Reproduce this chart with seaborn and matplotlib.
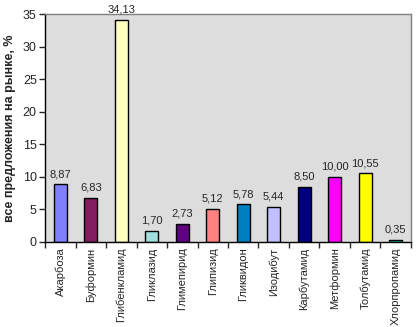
import pandas as pd
import numpy as np
import matplotlib
matplotlib.use('Agg')
import matplotlib.pyplot as plt
import seaborn as sns

# Data
drugs = ['Акарбоза', 'Буформин', 'Глибенкламид', 'Гликлазид', 'Глимепирид',
         'Глипизид', 'Гликвидон', 'Изодибут', 'Карбутамид', 'Метформин',
         'Толбутамид', 'Хлорпропамид']
shares = [8.87, 6.83, 34.13, 1.70, 2.73, 5.12, 5.78, 5.44, 8.50, 10.00, 10.55, 0.35]
bar_colors = ['#8080FF', '#801F60', '#FFFFC0', '#A0E0E0', '#600080', '#FF8080',
              '#0080C0', '#C0C0FF', '#000080', '#FF00FF', '#FFFF00', '#20E0E0']

df = pd.DataFrame({'drug': drugs, 'share': shares})

sns.set_style('white')
plt.rcParams['font.family'] = ['Liberation Sans', 'DejaVu Sans']

fig = plt.figure(figsize=(4.18, 3.27), dpi=100)
ax = fig.add_axes([0.108, 0.26, 0.875, 0.697])
ax.set_facecolor('#DDDDDD')

sns.barplot(data=df, x='drug', y='share', hue='drug', palette=bar_colors,
            saturation=1, width=0.43, edgecolor='black', linewidth=1,
            legend=False, ax=ax)

for i, v in enumerate(shares):
    ax.text(i, v + 0.8, f'{v:.2f}'.replace('.', ','), ha='center', va='bottom',
            fontsize=8, clip_on=False)

ax.set_ylim(0, 35)
ax.set_xlim(-0.5, len(drugs) - 0.5)
ax.set_yticks(range(0, 36, 5))
ax.tick_params(axis='y', labelsize=9, length=4, width=1, direction='out', left=True, pad=2)
ax.set_xticks(range(len(drugs)))
ax.set_xticklabels(drugs, rotation=90, fontsize=8)
ax.tick_params(axis='x', which='major', length=0, pad=4)
ax.set_xticks(np.arange(-0.5, len(drugs), 1), minor=True)
ax.tick_params(axis='x', which='minor', length=4, width=1, direction='out', bottom=True)

for side in ['top', 'right']:
    ax.spines[side].set_color('#808080')
    ax.spines[side].set_linewidth(1)
for side in ['left', 'bottom']:
    ax.spines[side].set_color('black')
    ax.spines[side].set_linewidth(1)

ax.set_xlabel('')
ax.set_ylabel('все предложения на рынке, %', fontsize=9, fontweight='bold', labelpad=5)

fig.savefig('out.png', dpi=100)
